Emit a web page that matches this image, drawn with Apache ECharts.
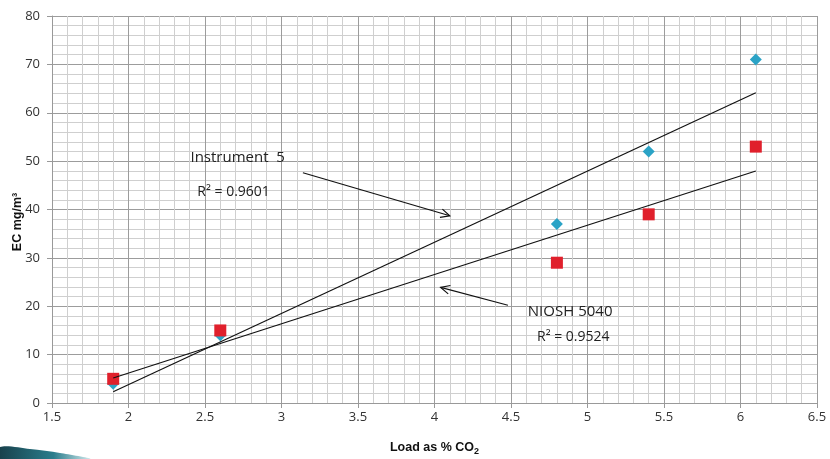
<!DOCTYPE html>
<html>
<head>
<meta charset="utf-8">
<script src="https://cdn.jsdelivr.net/npm/echarts@6/dist/echarts.min.js"></script>
<style>
  html, body { margin: 0; padding: 0; background: #fff; }
  #chart { width: 830px; height: 459px; }
</style>
</head>
<body>
<div id="chart"></div>
<script>
// 数据
const loadCO2 = [1.9, 2.6, 4.8, 5.4, 6.1]
const instrument5 = [4, 14, 37, 52, 71]
const niosh5040 = [5, 15, 29, 39, 53]
const seriesNames = ['Instrument  5', 'NIOSH 5040']
const rSquared = ['R² = 0.9601', 'R² = 0.9524']

// 最小二乘 趋势线 (两端点)
function linFit (xs, ys) {
  let n = xs.length
  let mx = xs.reduce((a, b) => a + b, 0) / n
  let my = ys.reduce((a, b) => a + b, 0) / n
  let sxy = 0
  let sxx = 0
  for (let i = 0; i < n; i++) {
    sxy += (xs[i] - mx) * (ys[i] - my)
    sxx += (xs[i] - mx) * (xs[i] - mx)
  }
  let k = sxy / sxx
  let b = my - k * mx
  return [[xs[0], b + k * xs[0]], [xs[n - 1], b + k * xs[n - 1]]]
}

const pairs = ys => loadCO2.map((x, i) => [x, ys[i]])
const font = "'Open Sans', 'Noto Sans', sans-serif"

let myChart = echarts.init(document.getElementById('chart'))

let Option = {
  animation: false,
  grid: {
    left: 52,
    right: 13,
    top: 16,
    bottom: 56,
    outerBoundsMode: 'none'
  },
  xAxis: {
    type: 'value',
    min: 1.5,
    max: 6.5,
    interval: 0.5,
    name: '{b|Load as % CO}{s|2}',
    nameLocation: 'middle',
    nameGap: 37,
    nameTextStyle: {
      rich: {
        b: { fontFamily: 'Liberation Sans', fontWeight: 'bold', fontSize: 12.5, color: '#111' },
        s: { fontFamily: 'Liberation Sans', fontWeight: 'bold', fontSize: 9, color: '#111', padding: [7, 0, 0, 0] }
      }
    },
    axisLine: { show: true, lineStyle: { color: '#999' } },
    axisTick: { show: true, length: 5, lineStyle: { color: '#999' } },
    axisLabel: {
      color: '#333',
      fontSize: 13,
      fontFamily: font,
      margin: 8,
      formatter: v => String(v)
    },
    splitLine: { show: true, lineStyle: { color: '#9c9c9c' } },
    minorTick: { show: false, splitNumber: 5 },
    minorSplitLine: { show: true, lineStyle: { color: '#cfcfcf' } }
  },
  yAxis: {
    type: 'value',
    min: 0,
    max: 80,
    interval: 10,
    axisLine: { show: true, lineStyle: { color: '#999' } },
    axisTick: { show: true, length: 5, lineStyle: { color: '#999' } },
    axisLabel: {
      color: '#333',
      fontSize: 13,
      fontFamily: font,
      margin: 12
    },
    splitLine: { show: true, lineStyle: { color: '#9c9c9c' } },
    minorTick: { show: false, splitNumber: 5 },
    minorSplitLine: { show: true, lineStyle: { color: '#cfcfcf' } }
  },
  series: [
    {
      name: seriesNames[0],
      type: 'scatter',
      symbol: 'diamond',
      symbolSize: [12, 12],
      itemStyle: { color: '#2ba3c6', opacity: 1 },
      z: 3,
      data: pairs(instrument5)
    },
    {
      name: seriesNames[1],
      type: 'scatter',
      symbol: 'rect',
      symbolSize: 12,
      itemStyle: { color: '#e0202c', opacity: 1 },
      z: 4,
      data: pairs(niosh5040)
    },
    {
      name: seriesNames[0] + ' trend',
      type: 'line',
      symbol: 'none',
      z: 5,
      lineStyle: { color: '#111', width: 1.2 },
      data: linFit(loadCO2, instrument5)
    },
    {
      name: seriesNames[1] + ' trend',
      type: 'line',
      symbol: 'none',
      z: 5,
      lineStyle: { color: '#111', width: 1.2 },
      data: linFit(loadCO2, niosh5040)
    }
  ]
}

myChart.setOption(Option)

// 注释 (数据坐标 -> 像素)
function px (x, y) {
  return myChart.convertToPixel({ gridIndex: 0 }, [x, y])
}

function arrow (from, to) {
  let p0 = px(from[0], from[1])
  let p1 = px(to[0], to[1])
  let ang = Math.atan2(p1[1] - p0[1], p1[0] - p0[0])
  let len = 10
  let spread = 0.45
  let h1 = [p1[0] - len * Math.cos(ang - spread), p1[1] - len * Math.sin(ang - spread)]
  let h2 = [p1[0] - len * Math.cos(ang + spread), p1[1] - len * Math.sin(ang + spread)]
  let style = { stroke: '#111', lineWidth: 1.2, fill: null }
  return [
    { type: 'line', shape: { x1: p0[0], y1: p0[1], x2: p1[0], y2: p1[1] }, style: style, z: 10 },
    { type: 'polyline', shape: { points: [h1, p1, h2] }, style: style, z: 10 }
  ]
}

function label (text, at, size) {
  let p = px(at[0], at[1])
  return {
    type: 'text',
    x: p[0],
    y: p[1],
    z: 10,
    style: {
      text: text,
      fontSize: size,
      fontFamily: font,
      fill: '#222',
      verticalAlign: 'middle'
    }
  }
}

let graphics = []
graphics.push(label(seriesNames[0], [2.405, 50.6], 15))
graphics.push(label(rSquared[0], [2.45, 43.6], 14))
graphics.push(label(seriesNames[1], [4.61, 18.8], 15))
graphics.push(label(rSquared[1], [4.67, 13.6], 14))
graphics = graphics.concat(arrow([3.14, 47.6], [4.10, 38.7]))
graphics = graphics.concat(arrow([4.48, 20.2], [4.04, 23.9]))

// y轴标题
graphics.push({
  type: 'text',
  x: 18,
  y: 222,
  rotation: Math.PI / 2,
  z: 10,
  style: {
    text: 'EC mg/m³',
    fontSize: 12.5,
    fontWeight: 'bold',
    fontFamily: 'Liberation Sans',
    fill: '#111',
    align: 'center',
    verticalAlign: 'middle'
  }
})

// 左下角装饰
graphics.push({
  type: 'polygon',
  z: 0,
  shape: {
    points: [[0, 447], [30, 449], [60, 453], [90, 459], [0, 459]],
    smooth: 0.3
  },
  style: {
    fill: new echarts.graphic.LinearGradient(0, 0, 1, 0, [
      { offset: 0, color: '#173f4a' },
      { offset: 0.6, color: '#2a7d8c' },
      { offset: 1, color: '#cfe8ec' }
    ])
  }
})

myChart.setOption({ graphic: graphics })
</script>
</body>
</html>
